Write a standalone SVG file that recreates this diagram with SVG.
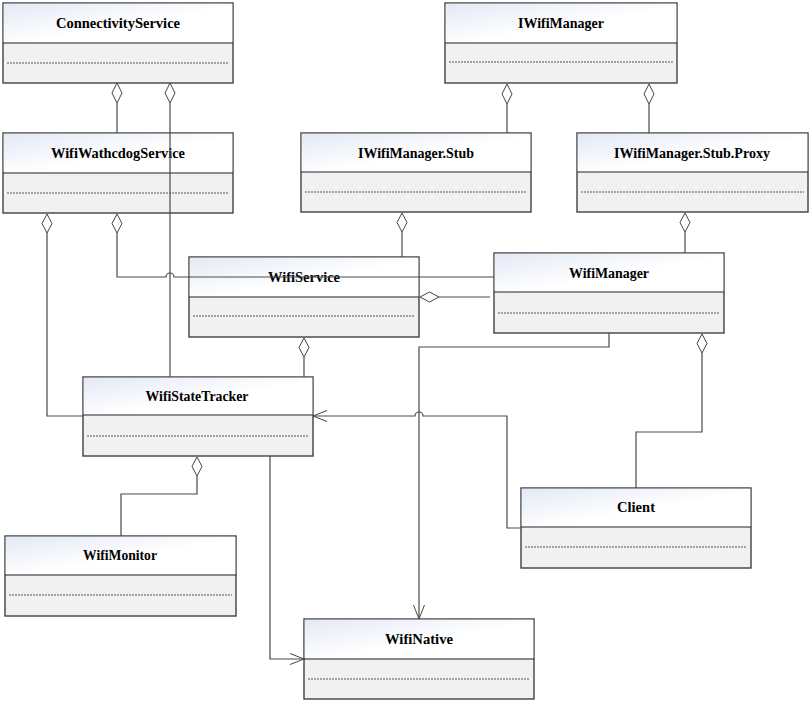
<svg xmlns="http://www.w3.org/2000/svg" width="810" height="703" viewBox="0 0 810 703">
<defs>
<linearGradient id="hg" x1="0" y1="0" x2="1" y2="1">
<stop offset="0" stop-color="#e3e9f5"/>
<stop offset="0.55" stop-color="#ffffff"/>
<stop offset="1" stop-color="#ffffff"/>
</linearGradient>
<marker id="arr" viewBox="0 0 14 12" refX="14" refY="6" markerWidth="14" markerHeight="12" markerUnits="userSpaceOnUse" orient="auto">
<path d="M0,0.5 L14,6 L0,11.5" fill="none" stroke="#444" stroke-width="1"/>
</marker>
</defs>
<style>
.box{fill:#f1f1f1;stroke:#404040;stroke-width:1.4}
.hdr{fill:url(#hg);stroke:none}
.div{stroke:#222;stroke-width:1.2}
.dash{stroke:#555;stroke-width:1;stroke-dasharray:2 1}
.t{font-family:"Liberation Serif","Times New Roman",serif;font-weight:bold;font-size:14px;text-anchor:middle;fill:#000}
.c{fill:none;stroke:#4a4a4a;stroke-width:1.2}
.dm{fill:#fff;stroke:#444;stroke-width:1}
</style>
<rect width="810" height="703" fill="#fff"/>

<g id="ConnectivityService">
<rect class="box" x="3" y="3" width="230" height="80"/>
<rect class="hdr" x="3.7" y="3.7" width="228.6" height="39"/>
<line class="div" x1="3" y1="43" x2="233" y2="43"/>
<line class="dash" x1="7" y1="63" x2="229" y2="63"/>
<text class="t" x="118" y="28" textLength="124" lengthAdjust="spacingAndGlyphs">ConnectivityService</text>
</g>

<g id="WifiWathcdogService">
<rect class="box" x="3" y="133" width="230" height="80"/>
<rect class="hdr" x="3.7" y="133.7" width="228.6" height="39"/>
<line class="div" x1="3" y1="173" x2="233" y2="173"/>
<line class="dash" x1="7" y1="193" x2="229" y2="193"/>
<text class="t" x="118" y="158" textLength="134" lengthAdjust="spacingAndGlyphs">WifiWathcdogService</text>
</g>

<g id="IWifiManager">
<rect class="box" x="445" y="3" width="232" height="80"/>
<rect class="hdr" x="445.7" y="3.7" width="230.6" height="39"/>
<line class="div" x1="445" y1="43" x2="677" y2="43"/>
<line class="dash" x1="449" y1="62" x2="673" y2="62"/>
<text class="t" x="561" y="28" textLength="86" lengthAdjust="spacingAndGlyphs">IWifiManager</text>
</g>

<g id="IWifiManager.Stub">
<rect class="box" x="301" y="133" width="230" height="79"/>
<rect class="hdr" x="301.7" y="133.7" width="228.6" height="38.6"/>
<line class="div" x1="301" y1="172" x2="531" y2="172"/>
<line class="dash" x1="305" y1="192" x2="527" y2="192"/>
<text class="t" x="416" y="158" textLength="116" lengthAdjust="spacingAndGlyphs">IWifiManager.Stub</text>
</g>

<g id="IWifiManager.Stub.Proxy">
<rect class="box" x="577" y="133" width="231" height="79"/>
<rect class="hdr" x="577.7" y="133.7" width="229.6" height="38.6"/>
<line class="div" x1="577" y1="172" x2="808" y2="172"/>
<line class="dash" x1="581" y1="192" x2="804" y2="192"/>
<text class="t" x="692" y="158" textLength="156" lengthAdjust="spacingAndGlyphs">IWifiManager.Stub.Proxy</text>
</g>

<g id="WifiService">
<rect class="box" x="189" y="257" width="230" height="80"/>
<rect class="hdr" x="189.7" y="257.7" width="228.6" height="39"/>
<line class="div" x1="189" y1="297" x2="419" y2="297"/>
<line class="dash" x1="193" y1="316" x2="415" y2="316"/>
<text class="t" x="304" y="282" textLength="72" lengthAdjust="spacingAndGlyphs">WifiService</text>
</g>

<g id="WifiManager">
<rect class="box" x="494" y="253" width="230" height="80"/>
<rect class="hdr" x="494.7" y="253.7" width="228.6" height="38.6"/>
<line class="div" x1="494" y1="292" x2="724" y2="292"/>
<line class="dash" x1="498" y1="313" x2="720" y2="313"/>
<text class="t" x="609" y="278" textLength="80" lengthAdjust="spacingAndGlyphs">WifiManager</text>
</g>

<g id="WifiStateTracker">
<rect class="box" x="83" y="377" width="230" height="79"/>
<rect class="hdr" x="83.7" y="377.7" width="228.6" height="37.6"/>
<line class="div" x1="83" y1="415" x2="313" y2="415"/>
<line class="dash" x1="87" y1="436" x2="309" y2="436"/>
<text class="t" x="197" y="401" textLength="103" lengthAdjust="spacingAndGlyphs">WifiStateTracker</text>
</g>

<g id="Client">
<rect class="box" x="521" y="488" width="230" height="80"/>
<rect class="hdr" x="521.7" y="488.7" width="228.6" height="38.6"/>
<line class="div" x1="521" y1="527" x2="751" y2="527"/>
<line class="dash" x1="525" y1="547" x2="747" y2="547"/>
<text class="t" x="636" y="512" textLength="38" lengthAdjust="spacingAndGlyphs">Client</text>
</g>

<g id="WifiMonitor">
<rect class="box" x="5" y="536" width="231" height="80"/>
<rect class="hdr" x="5.7" y="536.7" width="229.6" height="37.6"/>
<line class="div" x1="5" y1="575" x2="236" y2="575"/>
<line class="dash" x1="9" y1="595" x2="232" y2="595"/>
<text class="t" x="120" y="560" textLength="74" lengthAdjust="spacingAndGlyphs">WifiMonitor</text>
</g>

<g id="WifiNative">
<rect class="box" x="304" y="619" width="230" height="80"/>
<rect class="hdr" x="304.7" y="619.7" width="228.6" height="38.6"/>
<line class="div" x1="304" y1="659" x2="534" y2="659"/>
<line class="dash" x1="308" y1="679" x2="530" y2="679"/>
<text class="t" x="419" y="644" textLength="68" lengthAdjust="spacingAndGlyphs">WifiNative</text>
</g>

<g id="connectors">
<!-- ConnectivityService -> WifiWathcdogService -->
<path class="c" d="M117,103 V133"/>
<path class="dm" d="M117,83 L122,93 L117,103 L112,93 Z"/>
<!-- ConnectivityService -> WifiStateTracker -->
<path class="c" d="M170,103 V377"/>
<path class="dm" d="M170,83 L175,93 L170,103 L165,93 Z"/>
<!-- IWifiManager -> Stub -->
<path class="c" d="M507,104 V133"/>
<path class="dm" d="M507,84 L512,94 L507,104 L502,94 Z"/>
<!-- IWifiManager -> Proxy -->
<path class="c" d="M649,104 V133"/>
<path class="dm" d="M649,84 L654,94 L649,104 L644,94 Z"/>
<!-- WifiWathcdogService -> WifiStateTracker -->
<path class="c" d="M47,233 V416 H83"/>
<path class="dm" d="M47,214 L52,223.5 L47,233 L42,223.5 Z"/>
<!-- WifiWathcdogService -> WifiManager -->
<path class="c" d="M117,233 V277 H166 A4,4 0 0 1 174,277 H494"/>
<path class="dm" d="M117,214 L122,223.5 L117,233 L112,223.5 Z"/>
<!-- Stub -> WifiService -->
<path class="c" d="M402,232 V257"/>
<path class="dm" d="M402,213 L407,222.5 L402,232 L397,222.5 Z"/>
<!-- Proxy -> WifiManager -->
<path class="c" d="M685,232 V253"/>
<path class="dm" d="M685,213 L690,222.5 L685,232 L680,222.5 Z"/>
<!-- WifiManager -> WifiService -->
<path class="c" d="M439,297 H490"/>
<path class="dm" d="M420,297 L429.5,292 L439,297 L429.5,302 Z"/>
<!-- WifiService -> WifiStateTracker -->
<path class="c" d="M304,357 V377"/>
<path class="dm" d="M304,338 L309,347.5 L304,357 L299,347.5 Z"/>
<!-- WifiManager -> WifiNative -->
<path class="c" d="M609,333 V347 H419 V619" marker-end="url(#arr)"/>
<!-- Client -> WifiStateTracker -->
<path class="c" d="M521,528 H507 V416 H423 A4,4 0 0 0 415,416 H313" marker-end="url(#arr)"/>
<!-- WifiManager -> Client -->
<path class="c" d="M702,353 V432 H636 V488"/>
<path class="dm" d="M702,334 L707,343.5 L702,353 L697,343.5 Z"/>
<!-- WifiStateTracker -> WifiMonitor -->
<path class="c" d="M197,476 V494 H121 V536"/>
<path class="dm" d="M197,457 L202,466.5 L197,476 L192,466.5 Z"/>
<!-- WifiStateTracker -> WifiNative -->
<path class="c" d="M270,456 V659 H304" marker-end="url(#arr)"/>
</g>
</svg>
